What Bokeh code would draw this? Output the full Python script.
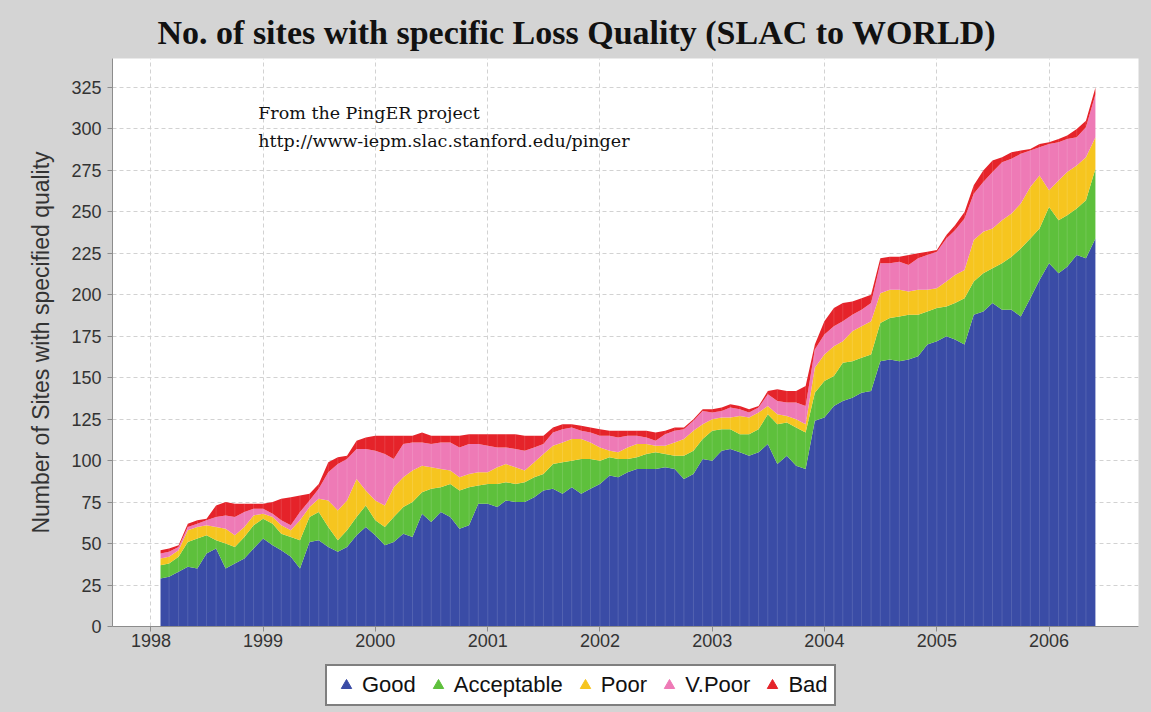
import pandas as pd
from bokeh.plotting import figure
from bokeh.layouts import column
from bokeh.models import (ColumnDataSource, Range1d, FixedTicker, DatetimeTickFormatter,
                          Legend, LegendItem, Label)
from bokeh.embed import file_html
from bokeh.resources import INLINE

# ---------------- data (monthly counts, Feb 1998 .. Jun 2006) ----------------
first_month = "1998-02-01"

good = [29, 30, 33, 36, 35, 44, 47, 35, 38, 41,
        47, 53, 49, 46, 42, 35, 51, 52, 48, 45,
        48, 55, 60, 55, 49, 51, 56, 54, 68, 63,
        69, 66, 59, 61, 74, 74, 72, 76, 75, 75,
        78, 82, 83, 80, 84, 80, 83, 86, 91, 90,
        93, 95, 95, 95, 96, 95, 89, 92, 101, 100,
        106, 107, 105, 103, 105, 110, 98, 103, 97, 95,
        124, 126, 133, 136, 138, 141, 142, 160, 161, 160,
        161, 163, 170, 172, 175, 173, 170, 188, 190, 195,
        191, 191, 187, 198, 209, 219, 213, 217, 224, 222,
        234]

acceptable = [8, 8, 9, 15, 18, 11, 5, 15, 10, 13,
              14, 12, 13, 10, 12, 17, 15, 17, 12, 7,
              10, 11, 13, 9, 11, 15, 16, 21, 13, 20,
              15, 20, 23, 23, 11, 12, 14, 11, 11, 12,
              12, 10, 15, 19, 16, 21, 18, 14, 11, 11,
              8, 7, 9, 10, 8, 8, 14, 14, 12, 18,
              13, 12, 11, 13, 14, 18, 24, 20, 23, 22,
              17, 22, 18, 23, 22, 21, 22, 23, 25, 27,
              27, 25, 20, 20, 18, 22, 28, 20, 23, 21,
              28, 32, 41, 36, 31, 34, 32, 31, 28, 35,
              42]

poor = [4, 4, 4, 7, 7, 6, 8, 9, 7, 6,
        6, 3, 4, 5, 4, 12, 6, 8, 16, 18,
        18, 23, 9, 12, 13, 18, 18, 19, 16, 13,
        11, 8, 8, 8, 8, 7, 10, 11, 10, 7,
        9, 12, 11, 12, 13, 12, 10, 8, 4, 4,
        7, 8, 6, 4, 5, 8, 10, 12, 9, 7,
        7, 7, 11, 10, 10, 5, 6, 4, 5, 5,
        15, 16, 18, 13, 18, 19, 20, 18, 17, 16,
        14, 15, 13, 12, 15, 17, 17, 25, 25, 24,
        26, 26, 27, 31, 32, 10, 24, 26, 26, 26,
        19]

v_poor = [3, 3, 2, 2, 2, 3, 6, 8, 11, 9,
          4, 3, 2, 3, 3, 5, 4, 6, 17, 28,
          25, 18, 25, 30, 31, 17, 20, 17, 14, 14,
          16, 17, 18, 18, 17, 16, 12, 10, 11, 12,
          9, 6, 8, 8, 7, 5, 6, 7, 9, 9,
          7, 5, 4, 3, 7, 7, 6, 6, 8, 4,
          4, 6, 4, 3, 3, 7, 8, 8, 10, 11,
          11, 12, 12, 12, 10, 10, 11, 18, 16, 17,
          16, 19, 21, 22, 26, 27, 31, 28, 30, 34,
          35, 33, 30, 22, 17, 28, 23, 20, 17, 18,
          26]

bad = [2, 2, 1, 2, 2, 1, 7, 8, 8, 5,
       3, 3, 7, 13, 17, 10, 4, 3, 6, 4,
       2, 5, 7, 9, 11, 14, 5, 4, 6, 5,
       4, 4, 7, 6, 6, 7, 8, 8, 9, 9,
       7, 5, 3, 3, 2, 3, 3, 4, 3, 4,
       3, 3, 4, 5, 2, 2, 1, 1, 1, 2,
       2, 2, 2, 2, 1, 2, 7, 7, 7, 12,
       3, 8, 11, 11, 8, 7, 5, 3, 4, 3,
       6, 3, 2, 1, 2, 3, 4, 5, 7, 7,
       3, 4, 2, 1, 2, 1, 2, 2, 5, 4,
       4]

categories = ["Good", "Acceptable", "Poor", "V.Poor", "Bad"]
colors = ["#3a4ca6", "#5ec03c", "#f6c51f", "#ee7ab6", "#e5232a"]
year_ticks = [1998, 1999, 2000, 2001, 2002, 2003, 2004, 2005, 2006]
y_ticks = [0, 25, 50, 75, 100, 125, 150, 175, 200, 225, 250, 275, 300, 325]

title_text = "No. of sites with specific Loss Quality (SLAC to WORLD)"
note_lines = ["From the PingER project", "http://www-iepm.slac.stanford.edu/pinger"]
y_label = "Number of Sites with specified quality"

BG = "#d4d4d4"

# ---------------- build ----------------
dates = pd.date_range(start=first_month, periods=len(good), freq="MS")
keys = ["good", "acceptable", "poor", "v_poor", "bad"]
series = [good, acceptable, poor, v_poor, bad]
data = {"date": dates}
for k, s in zip(keys, series):
    data[k] = s
data["total"] = [sum(t) for t in zip(*series)]
source = ColumnDataSource(data)

p = figure(frame_width=1026, frame_height=568,
           x_axis_type="datetime",
           x_range=Range1d(pd.Timestamp("1997-08-29"), pd.Timestamp("2006-10-19")),
           y_range=Range1d(0, 342.5),
           output_backend="svg", toolbar_location=None,
           min_border_left=112, min_border_right=13,
           min_border_top=58, min_border_bottom=34)

p.border_fill_color = BG
p.background_fill_color = "white"
p.outline_line_color = None

p.title.text = title_text
p.title.text_font = "Liberation Serif"
p.title.text_font_style = "bold"
p.title.text_font_size = "34px"
p.title.text_color = "#111111"
p.title.align = "left"
p.title.offset = 45
p.title.standoff = 16

p.varea_stack(stackers=keys, x="date", source=source, color=colors)
p.segment(x0="date", y0=0, x1="date", y1="total", source=source,
          line_color="white", line_alpha=0.13, line_width=1)

# axes
year_ms = [pd.Timestamp(f"{y}-01-01").value // 10**6 for y in year_ticks]
xt = FixedTicker(ticks=year_ms)
p.xaxis.ticker = xt
p.xgrid.ticker = xt
fmt = "%Y"
p.xaxis.formatter = DatetimeTickFormatter(years=fmt, months=fmt, days=fmt, hours=fmt,
                                          minutes=fmt, seconds=fmt, milliseconds=fmt)
yt = FixedTicker(ticks=y_ticks)
p.yaxis.ticker = yt
p.ygrid.ticker = yt

for ax in (p.xaxis, p.yaxis):
    ax.axis_line_color = "#8c8c8c"
    ax.axis_line_width = 1
    ax.major_tick_line_color = "#8c8c8c"
    ax.major_tick_out = 5
    ax.major_tick_in = 0
    ax.minor_tick_line_color = None
    ax.major_label_text_font = "Liberation Sans"
    ax.major_label_text_font_size = "18px"
    ax.major_label_text_color = "#333333"

p.yaxis.major_label_standoff = 6
p.xaxis.major_label_standoff = 2
p.yaxis.axis_label = y_label
p.yaxis.axis_label_text_font = "Liberation Sans"
p.yaxis.axis_label_text_font_size = "23px"
p.yaxis.axis_label_text_font_style = "normal"
p.yaxis.axis_label_text_color = "#333333"
p.yaxis.axis_label_standoff = 14

for g in (p.xgrid, p.ygrid):
    g.grid_line_color = "#d2d2d2"
    g.grid_line_dash = "4 3"
    g.grid_line_width = 1

# annotation text
for txt, yv in zip(note_lines, [309.5, 293.0]):
    p.add_layout(Label(x=pd.Timestamp("1998-12-16"), y=yv, text=txt,
                       text_font="DejaVu Serif", text_font_size="17.5px",
                       text_baseline="middle", text_color="#111111"))

# ---------------- legend strip (separate figure below the chart) ----------------
lg = figure(width=1151, height=52, output_backend="svg", toolbar_location=None,
            x_axis_location=None, y_axis_location=None,
            x_range=Range1d(0, 1), y_range=Range1d(0, 1),
            min_border=0)
lg.border_fill_color = BG
lg.background_fill_color = None
lg.outline_line_color = None
lg.grid.visible = False

items = []
for name, c in zip(categories, colors):
    # one hidden point (outside the strip's range) so the legend draws the glyph
    r = lg.scatter(x=[-5], y=[-5], marker="triangle", size=15, fill_color=c, line_color=c)
    items.append(LegendItem(label=name, renderers=[r]))

legend = Legend(items=items, orientation="horizontal", location=(213, 6))
legend.border_line_color = "black"
legend.border_line_width = 2
legend.background_fill_color = "white"
legend.background_fill_alpha = 1.0
legend.label_text_font = "Liberation Sans"
legend.label_text_font_size = "22px"
legend.label_text_color = "#111111"
legend.glyph_width = 26
legend.glyph_height = 26
legend.label_standoff = 3
legend.spacing = 9
legend.padding = 6
legend.margin = 0
lg.add_layout(legend)

layout = column(p, lg, spacing=0, styles={"background-color": BG})
open("out.html", "w").write(file_html(layout, INLINE))
